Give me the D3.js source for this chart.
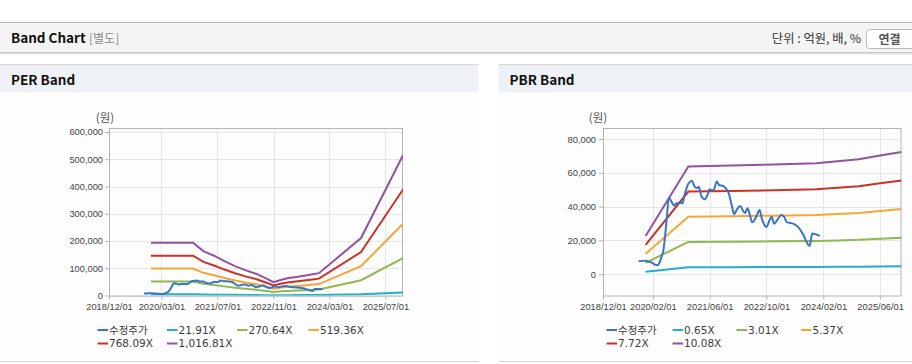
<!DOCTYPE html>
<html>
<head>
<meta charset="utf-8">
<script src="https://cdn.jsdelivr.net/npm/d3@7"></script>
<style>
  body { margin: 0; background: #fff; }
  svg { display: block; }
  .ui { font-family: "Noto Sans CJK KR", "Noto Sans", sans-serif; }
  .axis text { font-family: "Liberation Sans", Arial, sans-serif; font-size: 9.3px; fill: #444; }
  .legend text { font-family: "DejaVu Sans", "Noto Sans CJK KR", sans-serif; font-size: 10.5px; fill: #3c3c3c; }
</style>
</head>
<body>
<svg id="page" width="912" height="364"></svg>
<script>
// 공통 x축 범위
const xStart = "2018-12-01";
const xEnd = "2025-12-01";

// 수정주가 (PER / PBR 공통)
const priceDates = [
  "2019-10-01", "2019-12-01", "2020-01-01", "2020-02-01", "2020-02-15", "2020-03-10", "2020-04-01", "2020-04-15",
  "2020-05-01", "2020-05-15", "2020-05-28", "2020-06-18", "2020-07-10", "2020-08-01", "2020-08-22", "2020-09-22",
  "2020-10-12", "2020-11-01", "2020-12-01", "2021-01-01", "2021-01-22", "2021-02-12", "2021-03-01", "2021-03-25",
  "2021-04-25", "2021-05-12", "2021-06-01", "2021-06-22", "2021-07-10", "2021-08-01", "2021-08-25", "2021-09-22",
  "2021-10-22", "2021-11-12", "2021-12-10", "2021-12-28", "2022-01-22", "2022-02-18", "2022-03-15", "2022-04-01",
  "2022-04-22", "2022-05-12", "2022-06-01", "2022-06-25", "2022-07-12", "2022-08-04", "2022-08-22", "2022-09-10",
  "2022-10-01", "2022-10-28", "2022-11-15", "2022-12-06", "2023-01-06", "2023-02-04", "2023-03-01", "2023-03-25",
  "2023-05-22", "2023-07-04", "2023-08-15", "2023-09-12", "2023-10-06", "2023-10-28", "2023-11-25", "2024-01-01"
];
const priceValues = [
  7700, 8000, 7300, 6500, 5700, 5300, 7300, 10300,
  14000, 22000, 31500, 45200, 42800, 40600, 42000, 42300,
  42000, 47500, 53500, 55300, 52000, 51000, 51700, 45800,
  44400, 46500, 50200, 49600, 50300, 54800, 52600, 52300,
  50500, 48000, 40000, 35500, 38400, 40400, 37500, 36200,
  39000, 35000, 30700, 32500, 35000, 38000, 33000, 29500,
  27800, 32000, 34000, 29800, 32500, 35000, 34000, 30800,
  29800, 27500, 23000, 18800, 16700, 24000, 23600, 22600
];

// PER 밴드
const perLabels = ["수정주가", "21.91X", "270.64X", "519.36X", "768.09X", "1,016.81X"];
const perDates = [
  "2019-12-01", "2020-12-01", "2021-03-01", "2021-06-01", "2021-09-01", "2021-12-01", "2022-03-01", "2022-06-01",
  "2022-09-01", "2022-11-01", "2023-01-01", "2023-03-01", "2023-06-01", "2023-09-01", "2023-12-01", "2024-12-01", "2025-12-01"
];
const per21 = [4170, 4170, 3510, 3150, 2720, 2330, 2000, 1720, 1340, 1060, 1230, 1360, 1490, 1620, 1770, 4550, 11100];
const per270 = [51500, 51500, 43400, 38900, 33500, 28700, 24800, 21300, 16500, 13000, 15200, 16800, 18400, 20000, 21800, 56200, 137100];
const per519 = [98800, 98800, 83300, 74600, 64400, 55200, 47500, 40900, 31700, 25000, 29100, 32200, 35200, 38300, 41900, 107800, 263100];
const per768 = [146200, 146200, 123100, 110300, 95200, 81600, 70300, 60400, 46800, 37000, 43100, 47600, 52100, 56700, 61900, 159400, 389000];
const per1016 = [193500, 193500, 163000, 146000, 126000, 108000, 93000, 80000, 62000, 49000, 57000, 63000, 69000, 75000, 82000, 211000, 515000];
const perXTicks = ["2018-12-01", "2020-03-01", "2021-07-01", "2022-11-01", "2024-03-01", "2025-07-01"];
const perYTicks = [0, 100000, 200000, 300000, 400000, 500000, 600000];

// PBR 밴드
const pbrLabels = ["수정주가", "0.65X", "3.01X", "5.37X", "7.72X", "10.08X"];
const pbrDates = [
  "2019-12-01", "2020-12-01", "2021-12-01", "2022-12-01", "2023-12-01", "2024-06-01", "2024-12-01", "2025-06-01", "2025-12-01"
];
const pbr065 = [1460, 4120, 4150, 4190, 4240, 4310, 4390, 4530, 4660];
const pbr301 = [6700, 19100, 19200, 19400, 19600, 19900, 20300, 21000, 21600];
const pbr537 = [12000, 34000, 34300, 34600, 35000, 35600, 36200, 37400, 38500];
const pbr772 = [17300, 48900, 49200, 49700, 50300, 51200, 52100, 53800, 55400];
const pbr1008 = [22600, 63800, 64300, 64900, 65700, 66800, 68000, 70300, 72300];
const pbrXTicks = ["2018-12-01", "2020-02-01", "2021-06-01", "2022-10-01", "2024-02-01", "2025-06-01"];
const pbrYTicks = [0, 20000, 40000, 60000, 80000];

const colors = ["#3a75c5", "#22b0c8", "#8db94f", "#f5a636", "#cc3127", "#94519f"];

const parse = d3.timeParse("%Y-%m-%d");
const svg = d3.select("#page");

// ----- 상단 헤더 -----
svg.append("line").attr("x1", 0).attr("x2", 912).attr("y1", 22.5).attr("y2", 22.5).attr("stroke", "#b4b4b4");
svg.append("rect").attr("x", 0).attr("y", 23).attr("width", 912).attr("height", 29).attr("fill", "#f4f4f4");
svg.append("line").attr("x1", 0).attr("x2", 912).attr("y1", 52.5).attr("y2", 52.5).attr("stroke", "#c4c4c4");
svg.append("line").attr("x1", 0).attr("x2", 912).attr("y1", 53.5).attr("y2", 53.5).attr("stroke", "#e2e2e2");
svg.append("line").attr("x1", 0).attr("x2", 912).attr("y1", 54.5).attr("y2", 54.5).attr("stroke", "#f2f2f2");

svg.append("text").attr("class", "ui").attr("x", 11).attr("y", 43)
  .attr("font-size", 13.5).attr("font-weight", "bold").attr("fill", "#111").text("Band Chart");
svg.append("text").attr("class", "ui").attr("x", 89).attr("y", 43)
  .attr("font-size", 12).attr("fill", "#888").text("[별도]");
svg.append("text").attr("class", "ui").attr("x", 861).attr("y", 43)
  .attr("font-size", 12.3).attr("fill", "#333").attr("text-anchor", "end").text("단위 : 억원, 배, %");
svg.append("rect").attr("x", 866.5).attr("y", 29.5).attr("width", 52).attr("height", 19).attr("rx", 3)
  .attr("fill", "#fff").attr("stroke", "#bbb");
svg.append("text").attr("class", "ui").attr("x", 889.5).attr("y", 43.5)
  .attr("font-size", 12).attr("font-weight", "bold").attr("fill", "#555").attr("text-anchor", "middle").text("연결");

// ----- 밴드 차트 -----
function drawBand(cfg) {
  const g = svg.append("g");

  // 패널 헤더
  g.append("line").attr("x1", cfg.px0).attr("x2", cfg.px1).attr("y1", 64.5).attr("y2", 64.5).attr("stroke", "#d8d8d8");
  g.append("rect").attr("x", cfg.px0).attr("y", 65).attr("width", cfg.px1 - cfg.px0).attr("height", 27.5).attr("fill", "#eef2f7");
  g.append("rect").attr("x", cfg.px0).attr("y", 92.5).attr("width", cfg.px1 - cfg.px0).attr("height", 269).attr("fill", "#fdfdfd");
  g.append("line").attr("x1", cfg.px0).attr("x2", cfg.px1).attr("y1", 361.5).attr("y2", 361.5).attr("stroke", "#d6d6d6");
  g.append("text").attr("class", "ui").attr("x", cfg.px0 + 11).attr("y", 85)
    .attr("font-size", 13.5).attr("font-weight", "bold").attr("fill", "#111").text(cfg.title);

  const x = d3.scaleTime().domain([parse(xStart), parse(xEnd)]).range([cfg.left, cfg.right]);
  const y = d3.scaleLinear().domain(cfg.yDomain).range([cfg.bottom, cfg.top]);
  const xt = cfg.xTicks.map(parse);

  // 격자
  g.append("g").selectAll("line").data(cfg.yTicks).join("line")
    .attr("x1", cfg.left).attr("x2", cfg.right)
    .attr("y1", d => Math.round(y(d)) + 0.5).attr("y2", d => Math.round(y(d)) + 0.5)
    .attr("stroke", "#e6e6e6");
  g.append("g").selectAll("line").data(xt).join("line")
    .attr("x1", d => Math.round(x(d)) + 0.5).attr("x2", d => Math.round(x(d)) + 0.5)
    .attr("y1", cfg.top).attr("y2", cfg.bottom)
    .attr("stroke", "#e6e6e6");

  // 축
  const gx = g.append("g").attr("class", "axis").attr("transform", `translate(0,${cfg.bottom})`)
    .call(d3.axisBottom(x).tickValues(xt).tickFormat(d3.timeFormat("%Y/%m/%d")).tickSize(4).tickPadding(4).tickSizeOuter(0));
  const gy = g.append("g").attr("class", "axis").attr("transform", `translate(${cfg.left},0)`)
    .call(d3.axisLeft(y).tickValues(cfg.yTicks).tickFormat(d3.format(",")).tickSize(4).tickPadding(cfg.yPad).tickSizeOuter(0));
  gx.select(".domain").remove();
  gy.select(".domain").remove();
  g.selectAll(".axis .tick line").attr("stroke", "#b4b4b4");

  // 프레임
  g.append("rect").attr("x", cfg.left + 0.5).attr("y", cfg.top + 0.5)
    .attr("width", cfg.right - cfg.left - 1).attr("height", cfg.bottom - cfg.top)
    .attr("fill", "none").attr("stroke", "#b4b4b4");

  // 단위
  g.append("text").attr("class", "ui").attr("x", cfg.unitX).attr("y", 122)
    .attr("font-size", 11.5).attr("fill", "#555").attr("text-anchor", "middle").text("(원)");

  // 선
  const clipId = "clip-" + cfg.id;
  svg.append("clipPath").attr("id", clipId).append("rect")
    .attr("x", cfg.left).attr("y", cfg.top).attr("width", cfg.right - cfg.left).attr("height", cfg.bottom - cfg.top);
  const lines = g.append("g").attr("clip-path", `url(#${clipId})`);
  const bandLine = d3.line().x(d => x(d[0])).y(d => y(d[1]));
  const priceLine = d3.line().x(d => x(d[0])).y(d => y(d[1])).curve(d3.curveMonotoneX);

  cfg.bands.forEach((vals, i) => {
    lines.append("path")
      .datum(cfg.dates.map((d, j) => [parse(d), vals[j]]))
      .attr("d", bandLine)
      .attr("fill", "none").attr("stroke", colors[i + 1]).attr("stroke-width", 2);
  });
  lines.append("path")
    .datum(priceDates.map((d, j) => [parse(d), priceValues[j]]))
    .attr("d", priceLine)
    .attr("fill", "none").attr("stroke", colors[0]).attr("stroke-width", 2);

  // 범례
  const lg = g.append("g").attr("class", "legend");
  cfg.labels.forEach((label, i) => {
    const lx = cfg.legendX[i % 4];
    const ly = i < 4 ? 330 : 343.5;
    lg.append("line").attr("x1", lx).attr("x2", lx + 10.5).attr("y1", ly).attr("y2", ly)
      .attr("stroke", colors[i]).attr("stroke-width", 2);
    lg.append("text").attr("x", lx + 11.5).attr("y", ly).attr("dy", "0.36em")
      .attr("font-size", i === 0 ? 11.5 : null).text(label);
  });
}

drawBand({
  id: "per", title: "PER Band", px0: 0, px1: 478.5,
  left: 109, right: 403, top: 128, bottom: 295.5,
  yDomain: [0, 614700], yTicks: perYTicks, yPad: 2, xTicks: perXTicks,
  dates: perDates, bands: [per21, per270, per519, per768, per1016],
  labels: perLabels, legendX: [97.5, 167, 237, 308.5], unitX: 105
});

drawBand({
  id: "pbr", title: "PBR Band", px0: 498.5, px1: 912,
  left: 603, right: 901.5, top: 128, bottom: 295.5,
  yDomain: [-12650, 86530], yTicks: pbrYTicks, yPad: 3, xTicks: pbrXTicks,
  dates: pbrDates, bands: [pbr065, pbr301, pbr537, pbr772, pbr1008],
  labels: pbrLabels, legendX: [606.5, 672.5, 736.5, 801], unitX: 598
});
</script>
</body>
</html>
